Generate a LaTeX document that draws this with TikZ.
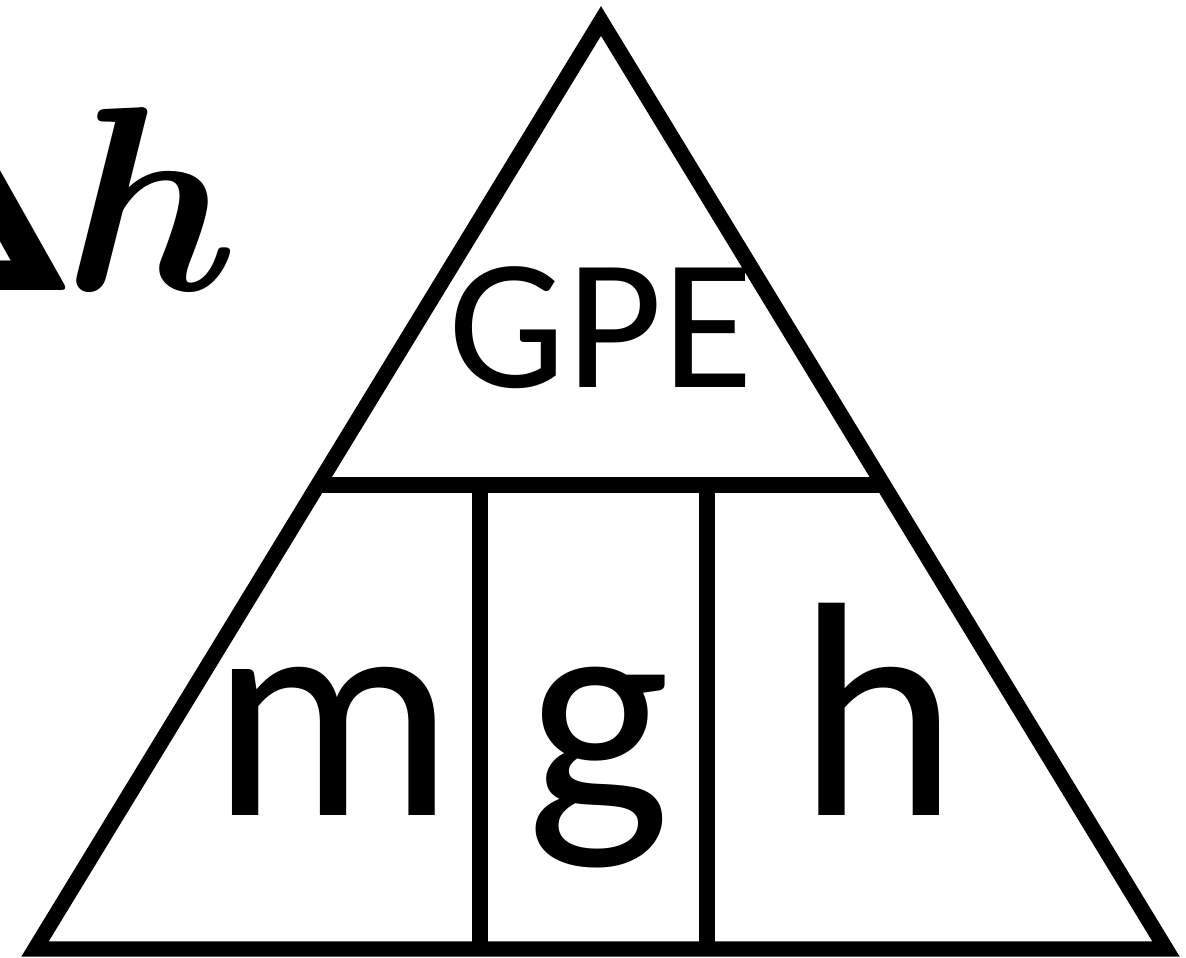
\RequirePackage{fix-cm}
\documentclass[tikz,border=0pt]{standalone}
\usepackage{amsmath,amssymb}
\usepackage{xcolor}
\usepackage{fontspec}
\setmainfont{Carlito}
\usetikzlibrary{positioning,calc}
\tikzset{
  edge/.style={draw=black, line width=4.4pt, line join=miter},
  cell/.style={inner sep=0pt, anchor=base, font=\fontsize{87}{90}\selectfont},
  head/.style={inner sep=0pt, anchor=base, font=\fontsize{53}{60}\selectfont},
  delta/.style={inner sep=0pt, anchor=base east, font=\fontsize{75}{78}\selectfont},
}
\begin{document}
\begin{tikzpicture}
  \useasboundingbox (0,0) rectangle (11.86,9.57);
  \clip (0,0) rectangle (11.86,9.57);
  % corners of the triangle
  \coordinate (bl) at (0.35,0.08);
  \coordinate (br) at (11.66,0.08);
  \coordinate (tp) at (6.01,9.36);
  \coordinate (ml) at ($(bl)!0.5!(tp)$);
  \coordinate (mr) at ($(br)!0.5!(tp)$);
  \coordinate (d1) at (4.80,0.08);
  \coordinate (d2) at (7.07,0.08);
  \draw[edge] (bl) -- (br) -- (tp) -- cycle;
  \draw[edge] (ml) -- (mr);
  \draw[edge] (d1) -- (d1 |- ml);
  \draw[edge] (d2) -- (d2 |- ml);
  % labels
  \node[head] (gpe) at (6.01,5.70) {GPE};
  \node[cell] (m) at (3.33,1.42) {m};
  \node[cell] (g) at (5.98,1.42) {g};
  \node[cell] (h) at (8.78,1.42) {h};
  \node[delta] (dh) at (2.40,6.67) {$\boldsymbol{\Delta\mkern-1mu h}$};
\end{tikzpicture}
\end{document}
